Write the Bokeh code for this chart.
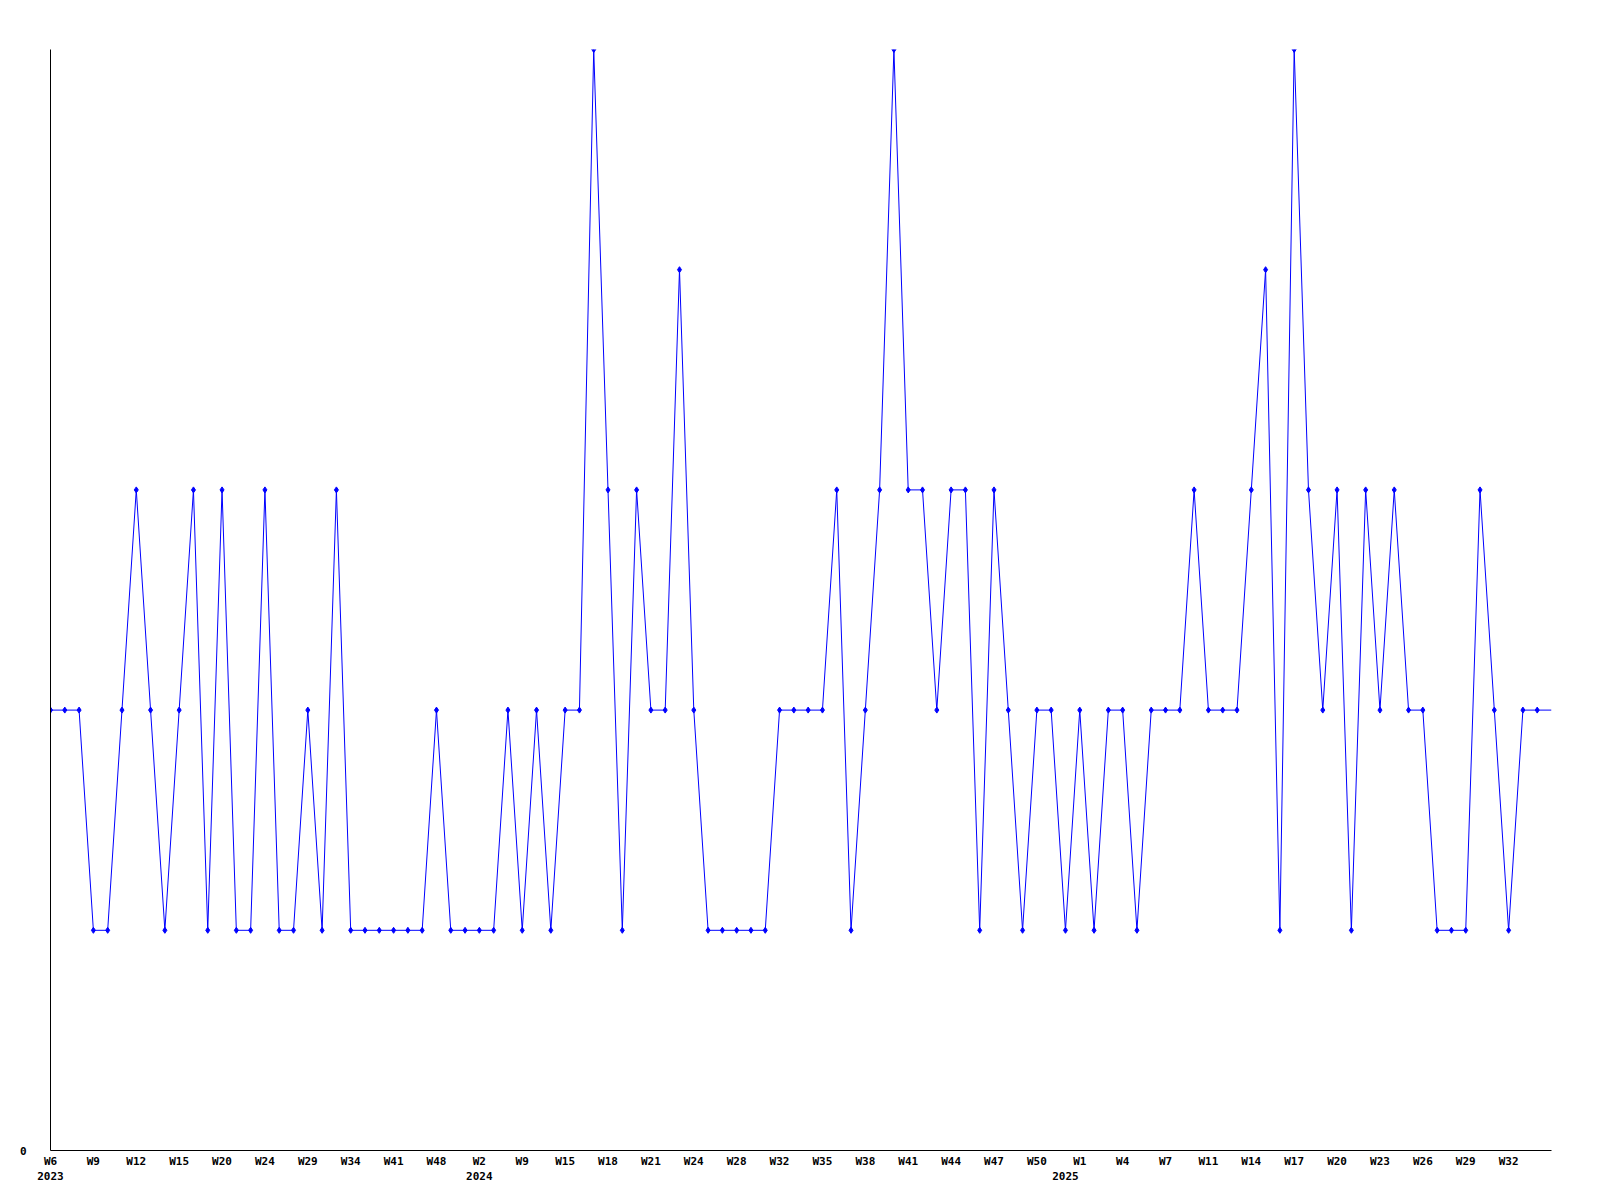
from bokeh.plotting import figure
from bokeh.models import FixedTicker, LinearAxis, Range1d, ColumnDataSource
from bokeh.embed import file_html
from bokeh.resources import INLINE

# Weekly values (one point per recorded week)
values = [
    2, 2, 2, 1, 1, 2, 3, 2, 1, 2,
    3, 1, 3, 1, 1, 3, 1, 1, 2, 1,
    3, 1, 1, 1, 1, 1, 1, 2, 1, 1,
    1, 1, 2, 1, 2, 1, 2, 2, 5, 3,
    1, 3, 2, 2, 4, 2, 1, 1, 1, 1,
    1, 2, 2, 2, 2, 3, 1, 2, 3, 5,
    3, 3, 2, 3, 3, 1, 3, 2, 1, 2,
    2, 1, 2, 1, 2, 2, 1, 2, 2, 2,
    3, 2, 2, 2, 3, 4, 1, 5, 3, 2,
    3, 1, 3, 2, 3, 2, 2, 1, 1, 1,
    3, 2, 1, 2, 2, 2,
]

# Week tick labels (every third point)
tick_labels = [
    "W6", "W9", "W12", "W15", "W20", "W24", "W29", "W34", "W41", "W48",
    "W2", "W9", "W15", "W18", "W21", "W24", "W28", "W32", "W35", "W38",
    "W41", "W44", "W47", "W50",
    "W1", "W4", "W7", "W11", "W14", "W17", "W20", "W23", "W26", "W29", "W32",
]
tick_step = 3

# Year labels and the point where each year starts
year_labels = ["2023", "2024", "2025"]
year_points = [0, 30, 71]

FONT = "DejaVu Sans Mono"
BLUE = "#0000ff"

x = list(range(len(values)))
src_line = ColumnDataSource(dict(x=x, y=values))
src_pts = ColumnDataSource(dict(x=x[:-1], y=values[:-1]))

p = figure(
    frame_width=1501, frame_height=1101,
    x_range=Range1d(0, len(values) - 1), y_range=Range1d(0, max(values)),
    output_backend="svg", toolbar_location=None,
    min_border_left=50, min_border_top=49, min_border_right=33, min_border_bottom=5,
    background_fill_color="white", border_fill_color="white",
)
p.outline_line_color = None
p.xgrid.visible = False
p.ygrid.visible = False

p.line("x", "y", source=src_line, line_color=BLUE, line_width=1)
p.scatter("x", "y", source=src_pts, marker="diamond", size=6,
          fill_color=BLUE, line_color=BLUE, line_width=1)

# Y axis: only the 0 label
ya = p.yaxis[0]
ya.ticker = FixedTicker(ticks=[0])
ya.major_tick_line_color = None
ya.minor_tick_line_color = None
ya.major_tick_out = 0
ya.major_label_standoff = 24
ya.axis_line_color = "black"
ya.major_label_text_font = FONT
ya.major_label_text_font_style = "bold"
ya.major_label_text_font_size = "11px"
ya.major_label_text_color = "black"

# X axis: week labels
ticks = list(range(0, tick_step * len(tick_labels), tick_step))
xa = p.xaxis[0]
xa.ticker = FixedTicker(ticks=ticks)
xa.major_label_overrides = {t: lab for t, lab in zip(ticks, tick_labels)}
xa.major_tick_line_color = None
xa.minor_tick_line_color = None
xa.major_tick_out = 0
xa.major_label_standoff = 4
xa.axis_line_color = "black"
xa.major_label_text_font = FONT
xa.major_label_text_font_style = "bold"
xa.major_label_text_font_size = "11px"
xa.major_label_text_color = "black"

# Second row: years
ya2 = LinearAxis(
    ticker=FixedTicker(ticks=year_points),
    major_label_overrides={t: lab for t, lab in zip(year_points, year_labels)},
    axis_line_color=None, major_tick_line_color=None, minor_tick_line_color=None,
    major_tick_out=0, major_label_standoff=1,
    major_label_text_font=FONT, major_label_text_font_style="bold",
    major_label_text_font_size="11px", major_label_text_color="black",
)
p.add_layout(ya2, "below")

open("out.html", "w").write(file_html(p, INLINE))
